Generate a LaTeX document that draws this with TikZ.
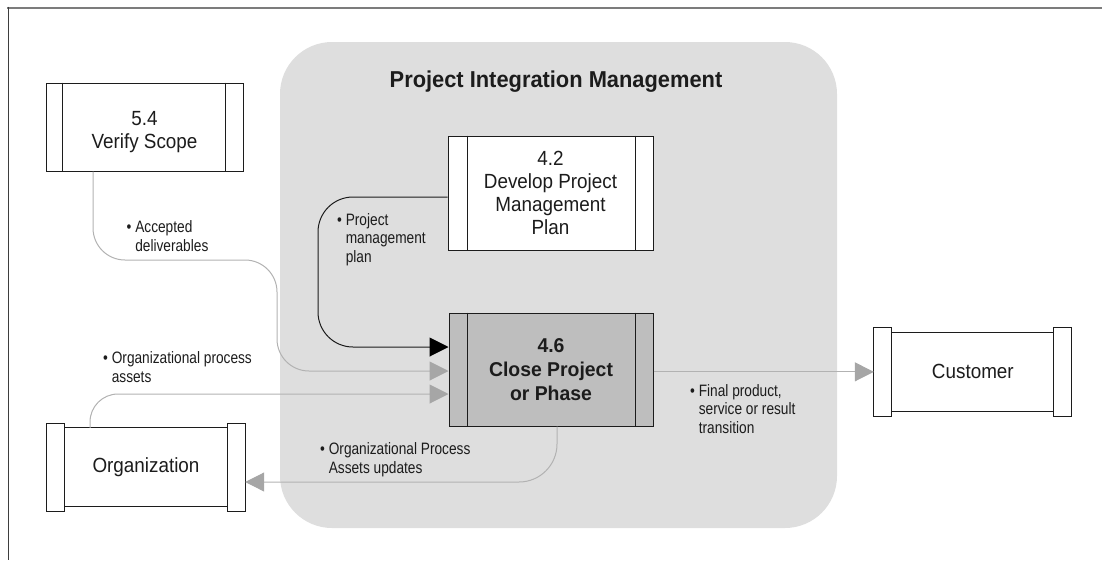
\documentclass[tikz,border=0pt]{standalone}
\usepackage{fontspec}
\usetikzlibrary{arrows.meta}
\newfontfamily\lblfont[FakeStretch=0.83]{Liberation Sans}
\newfontfamily\bxfont[FakeStretch=0.92]{Liberation Sans}
\newfontfamily\ttlfont[FakeStretch=0.95]{Liberation Sans}
\newfontfamily\bbfont[FakeStretch=0.97]{Liberation Sans}
\definecolor{bggray}{HTML}{DEDEDE}
\definecolor{cpgray}{HTML}{BEBEBE}
\definecolor{linegray}{HTML}{B2B2B2}
\definecolor{tipgray}{HTML}{A6A6A6}
\definecolor{framegray}{HTML}{7C7C7C}
\definecolor{ink}{HTML}{1C1C1C}
\tikzset{
  procbox/.style={draw=ink, line width=1pt, fill=white, rectangle, inner sep=0pt,
    align=center, text=ink, font=\bxfont\fontsize{20.5}{23}\selectfont},
  outerbox/.style={rectangle, inner sep=0pt},
  barpart/.style={draw=ink, line width=1pt, fill=white},
  midtext/.style={inner sep=0pt, text=ink, font=\bxfont\fontsize{20.5}{23}\selectfont},
  lbl/.style={anchor=north west, inner sep=0pt, align=left, text=ink,
    font=\lblfont\fontsize{16.5}{18.5}\selectfont},
  grayconn/.style={draw=linegray, line width=1pt,
    -{Triangle[length=19pt,width=19pt,color=tipgray]}},
  blackconn/.style={draw=ink, line width=1pt,
    -{Triangle[length=19pt,width=19pt,color=black]}},
  innerline/.style={draw=ink, line width=1pt},
}
\begin{document}
\begin{tikzpicture}[x=1pt,y=-1pt]
\useasboundingbox (0,0) rectangle (1102,560);
% frame
\draw[framegray, line width=2pt] (7,7.5) -- (1102,7.5);
\draw[ink!85, line width=1pt] (8,6.5) -- (8,560);
% group background
\fill[bggray, rounded corners=52pt] (280,42) rectangle (837,528);
\node[anchor=base, inner sep=0pt, text=ink, font=\ttlfont\bfseries\fontsize{23}{27}\selectfont]
  (title) at (556,87.7) {Project Integration Management};

% process boxes
\node[procbox, minimum width=197pt, minimum height=88pt] (vs) at (144.5,127)
  {\rule{0pt}{25pt}5.4\\Verify Scope};
\draw[innerline] ([xshift=17pt]vs.north west) -- ([xshift=17pt]vs.south west);
\draw[innerline] ([xshift=-18pt]vs.north east) -- ([xshift=-18pt]vs.south east);

\node[procbox, minimum width=205pt, minimum height=114pt] (pmp) at (550.5,193)
  {4.2\\Develop Project\\Management\\Plan};
\draw[innerline] ([xshift=20pt]pmp.north west) -- ([xshift=20pt]pmp.south west);
\draw[innerline] ([xshift=-18pt]pmp.north east) -- ([xshift=-18pt]pmp.south east);

\node[procbox, fill=cpgray, minimum width=204pt, minimum height=113pt,
  font=\bbfont\bfseries\fontsize{20}{24}\selectfont] (cp) at (551,369.5)
  {4.6\\Close Project\\or Phase};
\draw[innerline] ([xshift=19pt]cp.north west) -- ([xshift=19pt]cp.south west);
\draw[innerline] ([xshift=-18pt]cp.north east) -- ([xshift=-18pt]cp.south east);

% external entities (outer extent nodes)
\node[outerbox, minimum width=198pt, minimum height=88pt] (org) at (146,467.3) {};
\draw[barpart] ([xshift=18pt,yshift=-4.7pt]org.north west) rectangle ([xshift=-18pt,yshift=4.7pt]org.south east);
\draw[barpart] (org.north west) rectangle ([xshift=18pt]org.south west);
\draw[barpart] ([xshift=-18pt]org.north east) rectangle (org.south east);
\node[midtext] (orgt) at (org.center) {Organization};

\node[outerbox, minimum width=197.7pt, minimum height=88.3pt] (cust) at (972.85,371.85) {};
\draw[barpart] ([xshift=18pt,yshift=-4.6pt]cust.north west) rectangle ([xshift=-18pt,yshift=5pt]cust.south east);
\draw[barpart] (cust.north west) rectangle ([xshift=18pt]cust.south west);
\draw[barpart] ([xshift=-18pt]cust.north east) rectangle (cust.south east);
\node[midtext] (custt) at (cust.center) {Customer};

% connectors
\coordinate (pk) at (318,347);
\draw[blackconn, rounded corners=35pt] ([yshift=-4pt]pmp.west) -| (pk) -- ([yshift=22.5pt]cp.west);
\coordinate (ad) at (277,260);
\draw[grayconn, rounded corners=32pt] ([xshift=-51.5pt]vs.south) |- (ad) |- ([yshift=-1.5pt]cp.west);
\draw[grayconn, rounded corners=28pt] ([xshift=-56pt,yshift=-4.7pt]org.north) |- ([yshift=-24.5pt]cp.west);
\draw[grayconn, rounded corners=38pt] ([xshift=6pt]cp.south) |- ([yshift=-14.7pt]org.east);
\draw[grayconn] (cp.east |- cust.west) -- (cust.west);

% labels
\node[lbl] (l1) at (126.5,220.5) {• Accepted\\\phantom{• }deliverables};
\node[lbl] (l2) at (337,213) {• Project\\\phantom{• }management\\\phantom{• }plan};
\node[lbl] (l3) at (103,351.7) {• Organizational process\\\phantom{• }assets};
\node[lbl] (l4) at (320,442.7) {• Organizational Process\\\phantom{• }Assets updates};
\node[lbl] (l5) at (690,384) {• Final product,\\\phantom{• }service or result\\\phantom{• }transition};
\end{tikzpicture}
\end{document}
